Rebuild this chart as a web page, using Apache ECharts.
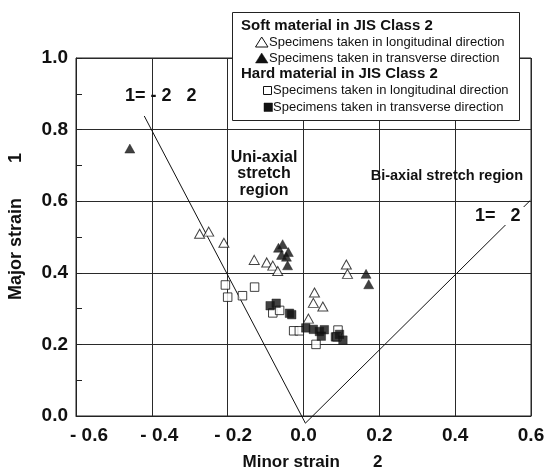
<!DOCTYPE html>
<html>
<head>
<meta charset="utf-8">
<title>Strain distribution</title>
<script src="https://cdn.jsdelivr.net/npm/echarts/dist/echarts.min.js"></script>
<style>
  html, body { margin: 0; padding: 0; background: #fff; }
  #chart { width: 547px; height: 468px; }
</style>
</head>
<body>
<div id="chart"></div>
<script>
// data, [minor strain, major strain]
const softLong = [
  [-0.274, 0.509], [-0.250, 0.515], [-0.210, 0.484], [-0.130, 0.436],
  [-0.097, 0.429], [-0.081, 0.420], [-0.068, 0.405], [0.113, 0.423],
  [0.116, 0.397], [0.029, 0.345], [0.026, 0.316], [0.051, 0.306],
  [0.013, 0.272]
]
const softTrans = [
  [-0.458, 0.747], [-0.055, 0.480], [-0.066, 0.470], [-0.040, 0.458],
  [-0.058, 0.450], [-0.045, 0.445], [-0.042, 0.421], [0.165, 0.397],
  [0.172, 0.368]
]
const hardLong = [
  [-0.206, 0.366], [-0.200, 0.332], [-0.161, 0.336], [-0.129, 0.360],
  [-0.081, 0.288], [-0.063, 0.295], [-0.026, 0.238], [-0.011, 0.238],
  [0.033, 0.200], [0.091, 0.240], [0.088, 0.221]
]
const hardTrans = [
  [-0.088, 0.308], [-0.072, 0.315], [-0.037, 0.287], [-0.031, 0.283],
  [0.006, 0.246], [0.026, 0.242], [0.042, 0.236], [0.055, 0.241],
  [0.047, 0.223], [0.084, 0.221], [0.095, 0.228], [0.104, 0.212]
]
// boundary lines e1 = -2 e2 and e1 = e2
const lineUni = [[-0.42, 0.838], [0.005, -0.02]]
const lineBi = [[0.005, -0.02], [0.598, 0.602]]

const xTickLabels = ['- 0.6', '- 0.4', '- 0.2', '0.0', '0.2', '0.4', '0.6']
const yTickLabels = ['0.0', '0.2', '0.4', '0.6', '0.8', '1.0']
const legendHeads = ['Soft material in JIS Class 2', 'Hard material in JIS Class 2']
const legendItems = [
  'Specimens taken in longitudinal direction',
  'Specimens taken in transverse direction',
  'Specimens taken in longitudinal direction',
  'Specimens taken in transverse direction'
]

const FONT = "'Liberation Sans', Arial, Helvetica, sans-serif"
const INK = '#111'

const chart = echarts.init(document.getElementById('chart'), null, { renderer: 'canvas' })

function tickText(size) {
  return { fontSize: size, fontWeight: 'bold', fontFamily: FONT, color: INK }
}

const option = {
  animation: false,
  backgroundColor: '#fff',
  grid: {
    left: 76, right: 16, top: 58, bottom: 52,
    show: true, borderColor: '#222', borderWidth: 1,
    containLabel: false,
    outerBoundsMode: 'none'
  },
  xAxis: {
    type: 'value', min: -0.6, max: 0.6, interval: 0.2,
    axisLine: { show: true, onZero: false, lineStyle: { color: '#222' } },
    axisTick: { show: false },
    splitLine: { show: true, lineStyle: { color: '#2a2a2a', width: 1 } },
    axisLabel: Object.assign(tickText(19), {
      margin: 10,
      formatter: function (v) {
        const i = Math.round((v + 0.6) * 5)
        const t = xTickLabels[i]
        if (i === 0) return '{a|' + t + '}'
        if (i === 1) return '{b|' + t + '}'
        if (i === 2) return '{c|' + t + '}'
        return t
      },
      rich: {
        a: Object.assign(tickText(19), { padding: [0, 0, 0, 26] }),
        b: Object.assign(tickText(19), { padding: [0, 0, 0, 15] }),
        c: Object.assign(tickText(19), { padding: [0, 0, 0, 11] })
      }
    }),
    name: 'Minor strain       2',
    nameLocation: 'middle',
    nameGap: 38,
    nameTextStyle: Object.assign(tickText(17), { padding: [0, 0, 0, 18] })
  },
  yAxis: {
    type: 'value', min: 0, max: 1, interval: 0.2,
    axisLine: { show: true, onZero: false, lineStyle: { color: '#222' } },
    axisTick: { show: true, inside: true, length: 6, lineStyle: { color: '#222' } },
    minorTick: { show: true, splitNumber: 2, length: 6, lineStyle: { color: '#222' } },
    splitLine: { show: true, lineStyle: { color: '#2a2a2a', width: 1 } },
    axisLabel: Object.assign(tickText(19), {
      margin: 8,
      formatter: function (v) { return yTickLabels[Math.round(v * 5)] }
    }),
    name: 'Major strain       1',
    nameLocation: 'middle',
    nameGap: 51,
    nameTextStyle: Object.assign(tickText(18), { padding: [0, 0, 0, 21] })
  },
  series: [
    {
      name: 'e1 = -2 e2', type: 'line', data: lineUni, symbol: 'none', clip: false,
      silent: true, lineStyle: { color: INK, width: 1 }, z: 1
    },
    {
      name: 'e1 = e2', type: 'line', data: lineBi, symbol: 'none', clip: false,
      silent: true, lineStyle: { color: INK, width: 1 }, z: 1
    },
    {
      name: 'Soft, longitudinal', type: 'scatter', data: softLong,
      symbol: 'triangle', symbolSize: [10, 9],
      itemStyle: { color: '#fff', borderColor: INK, borderWidth: 1 }
    },
    {
      name: 'Soft, transverse', type: 'scatter', data: softTrans,
      symbol: 'triangle', symbolSize: [10, 9],
      itemStyle: { color: INK, borderColor: INK, borderWidth: 0.5 }
    },
    {
      name: 'Hard, longitudinal', type: 'scatter', data: hardLong,
      symbol: 'rect', symbolSize: 8.5,
      itemStyle: { color: '#fff', borderColor: INK, borderWidth: 1 }
    },
    {
      name: 'Hard, transverse', type: 'scatter', data: hardTrans,
      symbol: 'rect', symbolSize: 8.5,
      itemStyle: { color: INK, borderColor: INK, borderWidth: 0.5 }
    }
  ],
  graphic: [
    // legend box
    {
      type: 'rect', z: 100,
      shape: { x: 232.5, y: 12.5, width: 287, height: 108 },
      style: { fill: '#fff', stroke: '#222', lineWidth: 1 }
    },
    {
      type: 'text', z: 101, x: 241, y: 26,
      style: { text: legendHeads[0], fontSize: 15, fontWeight: 'bold', fontFamily: FONT, fill: INK, verticalAlign: 'middle' }
    },
    {
      type: 'polygon', z: 101,
      shape: { points: [[255.5, 47], [268, 47], [261.7, 37]] },
      style: { fill: '#fff', stroke: INK, lineWidth: 1 }
    },
    {
      type: 'text', z: 101, x: 269, y: 42,
      style: { text: legendItems[0], fontSize: 13, fontFamily: FONT, fill: INK, verticalAlign: 'middle' }
    },
    {
      type: 'polygon', z: 101,
      shape: { points: [[255.5, 63], [268, 63], [261.7, 53]] },
      style: { fill: INK, stroke: INK, lineWidth: 0.5 }
    },
    {
      type: 'text', z: 101, x: 269, y: 58,
      style: { text: legendItems[1], fontSize: 13, fontFamily: FONT, fill: INK, verticalAlign: 'middle' }
    },
    {
      type: 'text', z: 101, x: 241, y: 74,
      style: { text: legendHeads[1], fontSize: 15, fontWeight: 'bold', fontFamily: FONT, fill: INK, verticalAlign: 'middle' }
    },
    {
      type: 'rect', z: 101,
      shape: { x: 263.5, y: 86.5, width: 8, height: 8 },
      style: { fill: '#fff', stroke: INK, lineWidth: 1 }
    },
    {
      type: 'text', z: 101, x: 273, y: 90.5,
      style: { text: legendItems[2], fontSize: 13, fontFamily: FONT, fill: INK, verticalAlign: 'middle' }
    },
    {
      type: 'rect', z: 101,
      shape: { x: 264, y: 103, width: 8.5, height: 8.5 },
      style: { fill: INK, stroke: INK, lineWidth: 0.5 }
    },
    {
      type: 'text', z: 101, x: 273, y: 107.3,
      style: { text: legendItems[3], fontSize: 13, fontFamily: FONT, fill: INK, verticalAlign: 'middle' }
    },
    // annotations
    {
      type: 'text', z: 50, x: 125, y: 96,
      style: { text: '1= - 2   2', fontSize: 18, fontWeight: 'bold', fontFamily: FONT, fill: INK, verticalAlign: 'middle' }
    },
    {
      type: 'text', z: 50, x: 264, y: 174,
      style: {
        text: 'Uni-axial\nstretch\nregion', fontSize: 16, fontWeight: 'bold', fontFamily: FONT,
        fill: INK, align: 'center', verticalAlign: 'middle', lineHeight: 16.5
      }
    },
    {
      type: 'text', z: 50, x: 523, y: 176,
      style: { text: 'Bi-axial stretch region', fontSize: 14.5, fontWeight: 'bold', fontFamily: FONT, fill: INK, align: 'right', verticalAlign: 'middle' }
    },
    {
      type: 'text', z: 50, x: 475, y: 216,
      style: {
        text: '1=   2', fontSize: 18, fontWeight: 'bold', fontFamily: FONT, fill: INK,
        verticalAlign: 'middle', backgroundColor: '#fff', padding: [0, 4, 0, 0]
      }
    }
  ]
}

chart.setOption(option)
</script>
</body>
</html>
